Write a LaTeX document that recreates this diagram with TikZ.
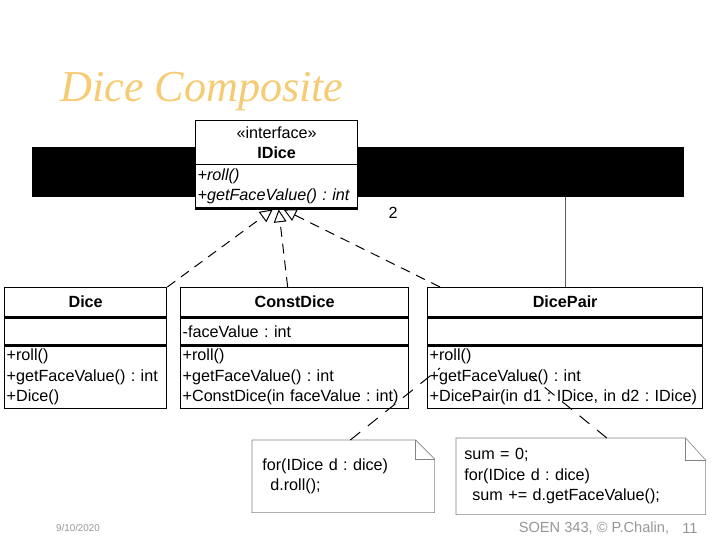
\documentclass[tikz,border=0pt]{standalone}
\usepackage{fontspec}
\setmainfont{Liberation Sans}
\newfontfamily\titlefont{Liberation Serif}
\usetikzlibrary{positioning,arrows.meta}
\definecolor{titleorange}{RGB}{246,203,115}
\definecolor{footgray}{RGB}{150,150,150}
\definecolor{notegray}{RGB}{130,130,130}
\definecolor{linkgray}{RGB}{90,90,90}
\newcommand{\umlsize}{\fontsize{11.5}{14.5}\selectfont}
\frenchspacing

\begin{document}
\begin{tikzpicture}[x=0.025cm, y=-0.025cm, >={Triangle[open, length=9pt, width=9pt]}]
        \tikzstyle{classname}=[draw, line width=0.9pt, minimum height=0.725cm, inner sep=0pt, font=\umlsize\bfseries]
        \tikzstyle{attrs}=[draw, line width=0.9pt, minimum height=0.675cm, inner xsep=0.05cm, inner ysep=1pt, align=left, font=\umlsize]
        \tikzstyle{ops}=[draw, line width=0.9pt, minimum height=1.55cm, inner xsep=0.05cm, inner ysep=1pt, align=left, font=\umlsize]
        \tikzstyle{realize}=[->, line width=0.7pt, dash pattern=on 7pt off 5pt]
        \tikzstyle{notelink}=[line width=0.7pt, dash pattern=on 9pt off 7pt]
        \tikzstyle{note}=[minimum height=1.8cm, inner ysep=0pt, align=left, font=\umlsize]
        \tikzstyle{footer}=[text=footgray, inner sep=0pt]

        \useasboundingbox (0,0) rectangle (720,540);

        \node[anchor=base west, inner sep=0pt, text=titleorange, font=\titlefont\itshape\fontsize{31.4}{31}\selectfont](title) at (60,101){Dice Composite};

        % interface, partly hidden behind the bar
        \node[draw, line width=0.9pt, anchor=north west, minimum width=4.05cm, minimum height=1.1cm, inner sep=0pt, align=center, font=\umlsize](IDiceHead) at (195,120){«interface»\\\textbf{IDice}};
        \node[ops, minimum height=1.075cm, text width=3.95cm, font=\umlsize\itshape, below=0pt of IDiceHead](IDiceOps){+roll()\\+getFaceValue() : int};

        \node[classname, anchor=north west, minimum width=4.05cm](DiceName) at (4,287){Dice};
        \node[attrs, text width=3.95cm, below=0pt of DiceName](DiceAttrs){};
        \node[ops, text width=3.95cm, below=0pt of DiceAttrs](DiceOps){+roll()\\+getFaceValue() : int\\+Dice()};

        \node[classname, anchor=north west, minimum width=5.7cm](ConstDiceName) at (180,287){ConstDice};
        \node[attrs, text width=5.6cm, below=0pt of ConstDiceName](ConstDiceAttrs){-faceValue : int};
        \node[ops, text width=5.6cm, below=0pt of ConstDiceAttrs](ConstDiceOps){+roll()\\+getFaceValue() : int\\+ConstDice(in faceValue : int)};

        \node[classname, anchor=north west, minimum width=6.875cm](DicePairName) at (427,287){DicePair};
        \node[attrs, text width=6.775cm, below=0pt of DicePairName](DicePairAttrs){};
        \node[ops, text width=6.775cm, below=0pt of DicePairAttrs](DicePairOps){+roll()\\+getFaceValue() : int\\+DicePair(in d1 : IDice, in d2 : IDice)};

        % composite link, then the bar over it
        \draw[linkgray, line width=0.8pt] (DicePairName.north) |- (IDiceOps.east);
        \fill[black] (32,147) rectangle (684,197);
        \node[draw, line width=0.9pt, fill=white, anchor=north west, minimum width=4.05cm, minimum height=1.1cm, inner sep=0pt, align=center, font=\umlsize] at (195,120){«interface»\\\textbf{IDice}};
        \node[draw, line width=0.9pt, fill=white, anchor=north west, minimum width=4.05cm, minimum height=1.075cm, inner xsep=0.05cm, inner ysep=1pt, text width=3.95cm, align=left, font=\umlsize\itshape] at (195,164){+roll()\\+getFaceValue() : int};
        \node[font=\umlsize](mult) at (393,213){2};

        \draw[realize] (DiceName.north east) -- ([xshift=-0.1cm]IDiceOps.south);
        \draw[realize] ([xshift=-0.175cm]ConstDiceName.north) -- ([xshift=0.05cm]IDiceOps.south);
        \draw[realize] ([xshift=0.325cm]DicePairName.north west) -- ([xshift=0.175cm]IDiceOps.south);

        % notes
        \node[note, anchor=north west, minimum width=4.55cm, inner xsep=0.25cm, text width=4.05cm](rollNote) at (252,440){for(IDice d : dice)\\\hspace*{0.5em}d.roll();};
        \node[note, anchor=north west, minimum width=6.225cm, minimum height=1.9cm, inner xsep=0.2cm, text width=5.825cm](sumNote) at (456,438){sum = 0;\\for(IDice d : dice)\\\hspace*{0.5em}sum += d.getFaceValue();};
        \draw[notegray] (rollNote.north west) -- ([xshift=-0.475cm]rollNote.north east) -- ([yshift=-0.475cm]rollNote.north east) -- (rollNote.south east) -- (rollNote.south west) -- cycle;
        \draw[notegray] ([xshift=-0.475cm]rollNote.north east) |- ([yshift=-0.475cm]rollNote.north east);
        \draw[notegray] (sumNote.north west) -- ([xshift=-0.5cm]sumNote.north east) -- ([yshift=-0.55cm]sumNote.north east) -- (sumNote.south east) -- (sumNote.south west) -- cycle;
        \draw[notegray] ([xshift=-0.5cm]sumNote.north east) |- ([yshift=-0.55cm]sumNote.north east);

        \coordinate(rollImpl) at (440,368);
        \coordinate(sumImpl) at (532,377);
        \draw[notelink] ([xshift=0.175cm]rollNote.north) -- (rollImpl);
        \draw[notelink] ([xshift=0.65cm]sumNote.north) -- (sumImpl);

        % footer
        \node[footer, font=\fontsize{7}{7}\selectfont](date) at (78,528){9/10/2020};
        \node[footer, font=\fontsize{10.4}{12}\selectfont](credit) at (594,528){SOEN 343, © P.Chalin,};
        \node[footer, font=\fontsize{10.4}{12}\selectfont](page) at (690,528){11};
        \end{tikzpicture}
\end{document}
